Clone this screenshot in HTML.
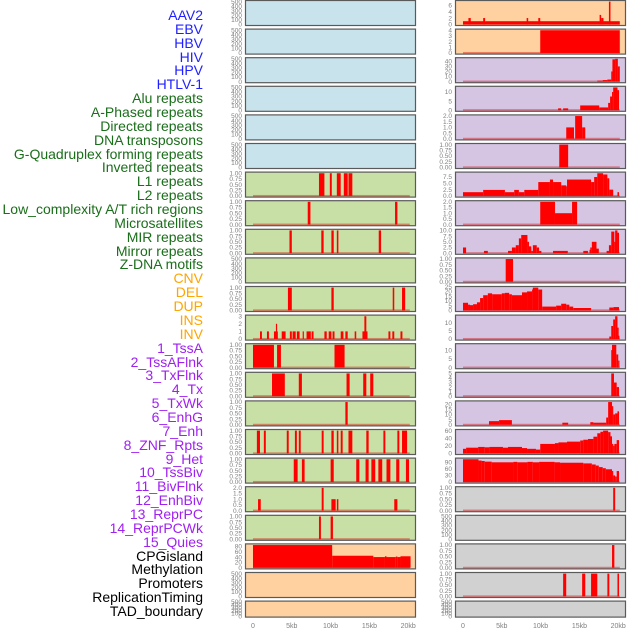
<!DOCTYPE html>
<html><head><meta charset="utf-8">
<style>
html,body{margin:0;padding:0;background:#fff;}
#wrap{position:relative;width:630px;height:630px;overflow:hidden;font-family:"Liberation Sans",sans-serif;}
.lbl{position:absolute;right:427px;font-size:14px;line-height:14px;white-space:nowrap;}
svg{position:absolute;left:0;top:0;}
</style></head>
<body>
<div id="wrap">
<div id="labels"></div>
<svg id="chart" width="630" height="630"></svg>
</div>
<script>
// ---- labels ----
const labelNames = ["AAV2","EBV","HBV","HIV","HPV","HTLV-1","Alu repeats","A-Phased repeats","Directed repeats","DNA transposons","G-Quadruplex forming repeats","Inverted repeats","L1 repeats","L2 repeats","Low_complexity A/T rich regions","Microsatellites","MIR repeats","Mirror repeats","Z-DNA motifs","CNV","DEL","DUP","INS","INV","1_TssA","2_TssAFlnk","3_TxFlnk","4_Tx","5_TxWk","6_EnhG","7_Enh","8_ZNF_Rpts","9_Het","10_TssBiv","11_BivFlnk","12_EnhBiv","13_ReprPC","14_ReprPCWk","15_Quies","CPGisland","Methylation","Promoters","ReplicationTiming","TAD_boundary"];
const labelGroups = [6,13,5,15,5];
const groupColors = ["#1f1fff","#1a6e1a","#ffa500","#a020f0","#000000"];

// ---- panel backgrounds ----
const leftBg = ["b","b","b","b","b","b","g","g","g","g","g","g","g","g","g","g","g","g","g","p","p","p"];
const rightBg = ["p","p","v","v","v","v","v","v","v","v","v","v","v","v","v","v","v","x","x","x","x","x"];
const bgColors = {b:"#c8e3ec",g:"#c8e0a5",p:"#ffd1a0",v:"#d5c5e3",x:"#d1d1d1"};

// ---- y-axis maxima (0 = empty panel, 0..500 ticks) ----
const leftMax = [0,0,0,0,0,0,1,1,1,0,1,3,1,1,1,1,1,2,1,85,0,0];
const rightMax = [7.2,4,45,12.5,2,1,9,2,10,1,24,14,13,5,22,60,104,1,0,1,1,0];
const leftTicks = [null,null,null,null,null,null,"b","b","b",null,"b",["0","1","2","3"],"b","b","b","b","b",["0.0","0.5","1.0","1.5","2.0"],"b",["0","20","40","60","80"],null,null];
const rightTicks = [["0","2","4","6"],["0","1","2","3","4"],["0","10","20","30","40"],["0","5","10"],["0.0","0.5","1.0","1.5","2.0"],"b",["0.0","2.5","5.0","7.5"],["0.0","0.5","1.0","1.5","2.0"],["0.0","2.5","5.0","7.5","10.0"],"b",["0","5","10","15","20","25"],["0","5","10"],["0","5","10"],["0","1","2","3","4","5"],["0","5","10","15","20"],["0","20","40","60"],["0","30","60","90"],"b",null,"b","b",null];

// ---- series: segments [startKb, endKb, value] ----
const L6 = [[8.5,9.2,1],[9.9,10.15,1],[10.8,11.3,1],[11.7,12.2,1],[12.3,12.8,1]];
const L7 = [[7.05,7.4,1],[18.3,18.6,1]];
const L8 = [[4.7,5.0,1],[8.8,9.1,1],[10.1,10.4,1],[10.8,11.0,1],[16.2,16.5,1]];
const L10 = [[4.5,5.0,1],[10.1,10.4,1],[18.0,18.2,1],[19.2,19.6,1]];
const L11 = [[0.9,1.15,1],[1.8,2.05,1],[2.7,3.2,1],[2.95,3.1,2],[3.7,4.2,1],[4.75,5.0,1],[5.1,5.5,1],[5.65,6.0,1],[6.4,6.55,1],[6.9,7.45,1],[7.55,7.8,1],[9.2,9.5,1],[9.75,10.1,1],[10.25,10.5,1],[11.3,11.65,1],[11.9,12.2,1],[13.1,13.3,1],[14.1,14.75,1],[14.35,14.6,3],[17.45,17.7,1],[17.95,18.2,1],[19.0,19.25,1]];
const L12 = [[0,2.7,1],[3.1,3.6,1],[10.5,11.8,1]];
const L13 = [[2.45,4.1,1],[5.9,6.3,1],[12.05,12.45,1],[14.2,14.6,1],[15.1,15.5,1]];
const L14 = [[11.9,12.2,1]];
const L15 = [[0.5,0.9,1],[1.4,1.65,1],[4.35,4.6,1],[5.4,5.65,1],[5.9,6.15,1],[8.85,9.1,1],[10.1,10.4,1],[10.8,11.0,1],[11.3,11.55,1],[12.3,12.8,1],[14.6,14.9,1],[16.8,17.05,1],[18.6,18.85,1],[19.2,19.85,1]];
const L16 = [[5.25,5.75,1],[6.3,6.65,1],[10.0,10.4,1],[13.3,13.7,1],[14.5,14.9,1],[15.25,15.75,1],[16.15,16.65,1],[17.2,17.7,1],[18.45,18.85,1],[19.7,20.1,1]];
const L17 = [[0.65,1.0,1],[8.85,9.1,2],[10.1,10.65,1],[10.8,11.0,1],[18.2,18.6,1]];
const L18 = [[8.5,8.75,1],[10.0,10.3,1]];
const L19 = [[0,10.2,85],[10.2,15.5,45],[15.5,17.0,40],[17.0,17.2,43],[17.2,18.4,40],[18.4,18.6,42],[18.6,19.0,40],[19.0,20.3,43]];
const leftSeries = [[],[],[],[],[],[],L6,L7,L8,[],L10,L11,L12,L13,L14,L15,L16,L17,L18,L19,[],[]];

const R0 = [[0,20.2,1],[0.7,1.0,2],[2.6,2.85,2],[8.2,8.4,2],[9.7,9.95,2],[17.6,17.8,3],[17.8,18.1,2],[18.8,19.0,7.2]];
const R1 = [[9.95,20.2,4]];
const R2 = [[17.3,18.0,2],[18.0,18.6,3],[18.6,19.1,4],[19.1,19.25,20],[19.25,19.6,44],[19.6,19.95,45],[19.95,20.2,30]];
const R3 = [[12.25,12.65,1],[12.9,13.55,1],[15.1,17.55,2.6],[17.55,18.7,1.5],[18.7,18.95,4],[18.95,19.2,7.5],[19.2,19.35,10],[19.35,19.9,12.5],[19.9,20.1,11]];
const R4 = [[13.3,14.3,1],[14.45,15.35,2],[15.35,15.75,1]];
const R5 = [[12.4,13.55,1]];
const R6 = [[0,2.6,1.5],[2.6,5.4,2.4],[5.4,6.6,1.5],[6.6,7.2,2.4],[7.2,7.9,1.5],[7.9,9.7,2.4],[9.7,11.2,5.5],[11.2,11.6,6.5],[11.6,12.65,5.5],[12.65,13.3,4.2],[13.3,13.4,3.8],[13.4,16.5,6.5],[16.5,16.9,5.5],[16.9,17.3,7.5],[17.3,18.05,9],[18.05,18.6,8.5],[18.6,18.85,7],[18.85,19.35,2.5],[19.9,20.1,1.5]];
const R7 = [[9.95,11.85,2],[11.85,14.05,1],[14.05,14.7,2]];
const R8 = [[0,0.4,2.5],[2.7,3.2,1],[5.8,6.3,1],[6.3,6.8,2.5],[6.8,7.2,3.5],[7.2,7.5,6.5],[7.5,8.3,8],[8.3,8.5,5],[8.5,8.8,3],[8.8,9.0,1],[9.0,9.5,3.5],[9.5,9.8,2.5],[9.8,10.1,1],[11.6,13.5,1],[15.5,16.1,1],[16.3,16.4,1.5],[16.4,16.6,2.5],[16.6,17.2,5],[17.2,17.5,2],[18.5,18.8,1],[18.8,19.1,3.5],[19.1,19.5,9.5],[19.5,19.6,5],[19.6,19.9,10],[19.9,20.1,9]];
const R9 = [[5.5,6.45,1]];
const R10 = [[0,0.65,8],[0.65,0.9,6],[0.9,1.3,5.5],[1.3,1.8,6.5],[1.8,2.2,8.5],[2.2,2.6,13],[2.6,3.2,16],[3.2,3.75,18],[3.75,5.0,17],[5.0,5.4,18],[5.4,5.95,18.5],[5.95,6.3,17],[6.3,7.6,16],[7.6,8.25,19],[8.25,8.9,20],[8.9,9.0,22],[9.0,9.7,24],[9.7,10.2,22],[10.2,12.0,4],[12.0,12.65,5],[12.65,13.3,7],[13.3,13.7,6],[13.7,14.2,4],[14.2,16.5,2.5],[18.85,19.4,3],[19.4,20.1,3.5]];
const R11 = [[18.85,19.1,1.5],[19.1,19.35,8],[19.35,19.6,12],[19.6,19.9,14],[19.9,20.0,7],[20.0,20.15,2]];
const R12 = [[19.1,19.2,10],[19.2,19.75,13],[19.75,20.0,7.5],[20.0,20.15,4]];
const R13 = [[19.1,19.45,5],[19.45,19.8,3],[19.8,20.1,2]];
const R14 = [[3.35,4.65,3.5],[4.65,6.3,4.5],[12.8,13.55,2],[16.4,16.8,2.5],[16.8,18.45,2],[18.45,18.7,7],[18.7,19.2,22],[19.2,19.35,18],[19.35,19.6,10],[19.6,19.9,11],[19.9,20.1,13]];
const R15 = [[0,0.4,12],[0.4,1.95,15],[1.95,2.8,17],[2.8,3.4,16],[3.4,5.15,17],[5.15,5.8,15],[5.8,7.6,17],[7.6,8.25,14],[8.25,9.4,12],[9.4,9.95,10],[9.95,11.85,25],[11.85,12.3,27],[12.3,13.4,29],[13.4,15.1,31],[15.1,15.5,34],[15.5,16.1,36],[16.1,16.8,38],[16.8,17.3,44],[17.3,17.7,53],[17.7,18.05,57],[18.05,18.7,60],[18.7,19.0,56],[19.0,19.2,45],[19.2,19.35,25],[19.35,19.5,20],[19.5,19.8,25],[19.8,20.1,35]];
const R16 = [[0,2.0,104],[2.0,2.4,98],[2.4,2.8,96],[2.8,3.7,93],[3.7,6.5,90],[6.5,7.0,92],[7.0,8.3,90],[8.3,9.0,92],[9.0,9.8,90],[9.8,11.8,92],[11.8,12.5,90],[12.5,15.5,88],[15.5,16.6,85],[16.6,17.1,80],[17.1,17.5,75],[17.5,18.0,68],[18.0,18.4,63],[18.4,19.2,58],[19.2,19.35,50],[19.35,19.6,30],[19.6,19.8,25],[19.8,20.1,50]];
const R17 = [[19.35,19.6,1]];
const R19 = [[19.2,19.5,1]];
const R20 = [[12.9,13.3,1],[15.35,15.75,1],[16.5,17.3,1],[18.6,18.85,1],[19.9,20.1,1]];
const rightSeries = [R0,R1,R2,R3,R4,R5,R6,R7,R8,R9,R10,R11,R12,R13,R14,R15,R16,R17,[],R19,R20,[]];

const xTickVals = [0,5,10,15,20];
const xTickLabels = ["0","5kb","10kb","15kb","20kb"];
const emptyTicks = ["0","100","200","300","400","500"];
const binTicks = ["0.00","0.25","0.50","0.75","1.00"];

// ---- rendering ----
const NS = "http://www.w3.org/2000/svg";
const svg = document.getElementById("chart");
const labelsDiv = document.getElementById("labels");
const colX = [245, 455];
const PW = 171;
const dom = [-1.03, 21.0];
function xScale(col, kb){ return colX[col] + (kb - dom[0]) / (dom[1] - dom[0]) * PW; }
function panelTop(i){ return 0.5 + i * 28.6; }
function panelH(i){ return i === 21 ? 16 : 25; }
function yScale(i, M, v){ const T = panelTop(i), H = panelH(i); return T + H - (v + 0.05 * M) / (1.1 * M) * H; }
function mk(tag, attrs){ const e = document.createElementNS(NS, tag); for (const k in attrs) e.setAttribute(k, attrs[k]); return e; }

// labels
let li = 0;
labelGroups.forEach((n, g) => {
  for (let k = 0; k < n; k++) {
    const d = document.createElement("div");
    d.className = "lbl";
    d.style.top = (8 + li * 13.86) + "px";
    d.style.color = groupColors[g];
    d.textContent = labelNames[li];
    
    
    labelsDiv.appendChild(d);
    li++;
  }
});

function drawPanel(col, i, bg, M, ticks, series){
  const T = panelTop(i), H = panelH(i), X = colX[col];
  const g = mk("g", {});
  
  
  svg.appendChild(g);
  const r = mk("rect", {x: X + 0.5, y: T, width: PW - 1, height: H, fill: bgColors[bg], stroke: "#5a5a5a", "stroke-width": 1.2});
  
  
  g.appendChild(r);
  let labels, vals, Mx;
  if (M === 0) {
    Mx = 500; labels = emptyTicks; vals = emptyTicks.map(Number);
  } else {
    Mx = M;
    labels = ticks === "b" ? binTicks : ticks;
    vals = labels.map(Number);
  }
  if (M !== 0) {
    const base = mk("rect", {x: xScale(col, 0), y: yScale(i, Mx, 0) - 1, width: xScale(col, 20.2) - xScale(col, 0), height: 1.6, fill: "rgba(210,0,0,0.4)"});
    
    
    g.appendChild(base);
  }
  series.forEach(s => {
    const x0 = xScale(col, s[0]), x1 = xScale(col, s[1]);
    const y0 = Math.max(yScale(i, Mx, s[2]), T + 0.6), yb = yScale(i, Mx, 0);
    const b = mk("rect", {x: x0, y: y0, width: Math.max(x1 - x0, 1.2), height: Math.max(yb - y0, 0), fill: "#ff0000"});
    
    
    g.appendChild(b);
  });
  labels.forEach((t, k) => {
    const tx = mk("text", {x: X - 3, y: yScale(i, Mx, vals[k]) + 2.2, "font-size": 6.5, fill: "#808080", "text-anchor": "end"});
    tx.textContent = t;
    
    
    g.appendChild(tx);
  });
}
for (let i = 0; i < 22; i++) {
  drawPanel(0, i, leftBg[i], leftMax[i], leftTicks[i], leftSeries[i]);
  drawPanel(1, i, rightBg[i], rightMax[i], rightTicks[i], rightSeries[i]);
}
[0, 1].forEach(col => {
  xTickVals.forEach((v, k) => {
    const t = mk("text", {x: xScale(col, v), y: 628, "font-size": 7, fill: "#808080", "text-anchor": "middle"});
    t.textContent = xTickLabels[k];
    
    
    svg.appendChild(t);
  });
});
</script>
</body></html>
